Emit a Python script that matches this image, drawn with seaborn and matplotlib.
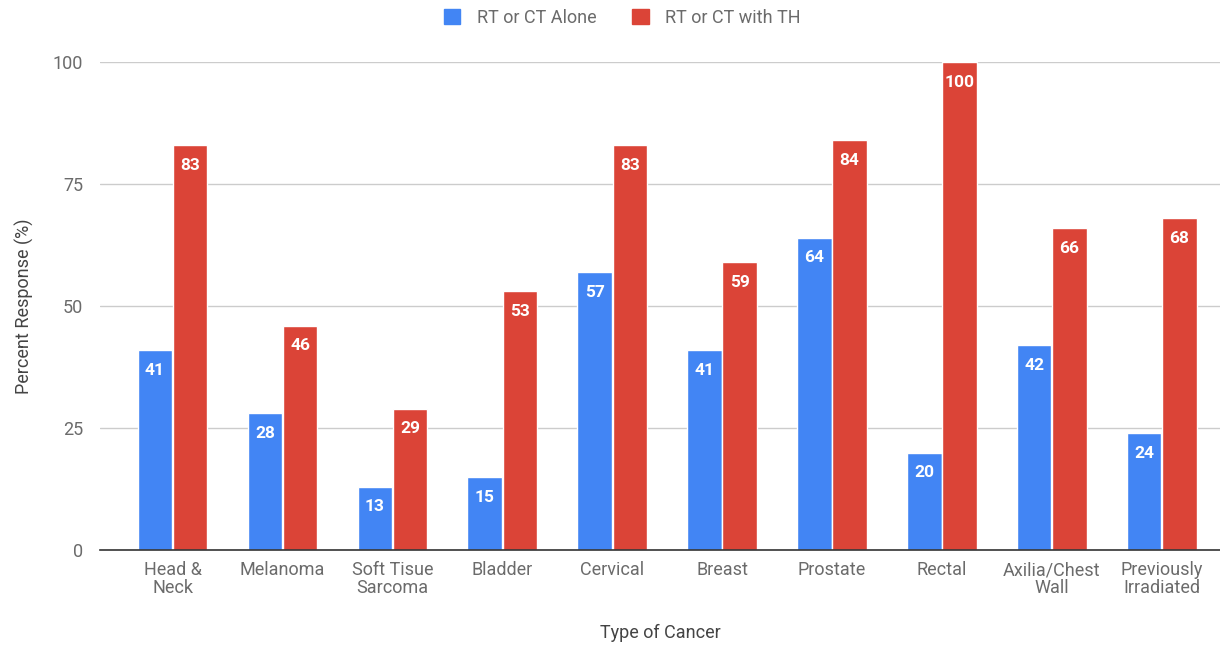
import pandas as pd
import matplotlib
matplotlib.use("Agg")
import matplotlib.pyplot as plt
import seaborn as sns

CATEGORIES = ["Head &\nNeck", "Melanoma", "Soft Tisue\nSarcoma", "Bladder", "Cervical",
              "Breast", "Prostate", "Rectal", "Axilia/Chest\nWall", "Previously\nIrradiated"]
ALONE = [41, 28, 13, 15, 57, 41, 64, 20, 42, 24]
WITH_TH = [83, 46, 29, 53, 83, 59, 84, 100, 66, 68]
SERIES = ["RT or CT Alone", "RT or CT with TH"]
COLORS = ["#4285F4", "#DB4437"]


def build_frame():
    rows = []
    for cat, a, b in zip(CATEGORIES, ALONE, WITH_TH):
        rows.append({"Type": cat, "Series": SERIES[0], "Value": a})
        rows.append({"Type": cat, "Series": SERIES[1], "Value": b})
    return pd.DataFrame(rows)


def main():
    sns.set_style("white")
    plt.rcParams["font.family"] = ["Roboto", "DejaVu Sans"]

    df = build_frame()
    fig = plt.figure(figsize=(12.2, 6.45), dpi=100)
    ax = fig.add_axes([0.082, 0.147, 0.918, 0.757])

    sns.barplot(data=df, x="Type", y="Value", hue="Series", order=CATEGORIES,
                hue_order=SERIES, palette=COLORS, width=0.64, gap=0.02,
                saturation=1, ax=ax, legend=False, zorder=3)

    for container in ax.containers:
        ax.bar_label(container, labels=[f"{v:g}" for v in container.datavalues],
                     padding=-20, color="white", fontsize=12.5, fontweight="bold")

    ax.set_ylim(0, 100)
    ax.set_xlim(-0.66, 9.53)
    ax.set_yticks([0, 25, 50, 75, 100])
    ax.yaxis.grid(True, color="#cccccc", linewidth=1, zorder=0)
    ax.set_axisbelow(True)
    for side in ["top", "right", "left"]:
        ax.spines[side].set_visible(False)
    ax.spines["bottom"].set_color("#333333")
    ax.spines["bottom"].set_linewidth(1.2)
    ax.spines["bottom"].set_zorder(4)

    ax.tick_params(axis="both", length=0, labelsize=13, labelcolor="#6b6b6b")
    ax.tick_params(axis="x", pad=8)
    ax.tick_params(axis="y", pad=12)
    for lbl in ax.get_xticklabels():
        lbl.set_linespacing(1.0)

    ax.set_xlabel("Type of Cancer", fontsize=13, color="#444444", labelpad=19)
    ax.set_ylabel("Percent Response (%)", fontsize=13, color="#444444", labelpad=14)

    handles = [plt.Rectangle((0, 0), 1, 1, color=c) for c in COLORS]
    fig.legend(handles, SERIES, loc="upper center", bbox_to_anchor=(0.51, 1.012),
               ncol=2, frameon=False, fontsize=13, labelcolor="#6b6b6b",
               handlelength=0.9, handleheight=0.9, handletextpad=0.9,
               columnspacing=2.0)

    fig.savefig("out.png", dpi=100)
    plt.close(fig)


if __name__ == "__main__":
    main()
